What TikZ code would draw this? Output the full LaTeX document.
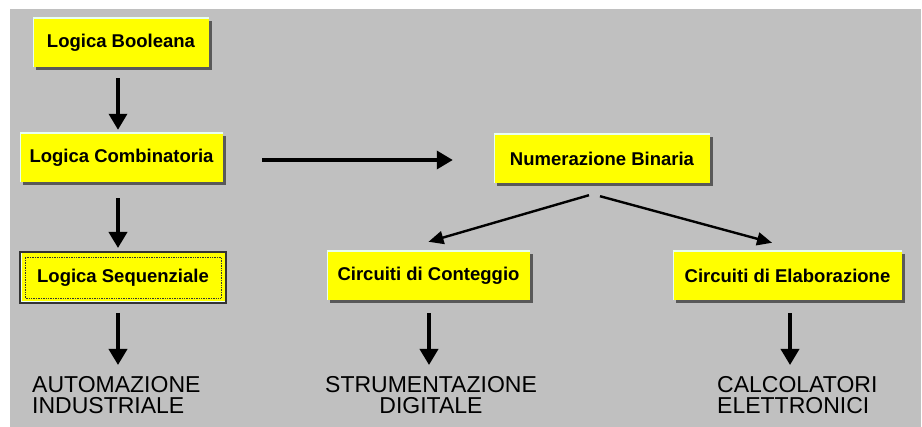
\documentclass[tikz,border=0pt]{standalone}
\usepackage{fontspec}
\setmainfont{Liberation Sans}
\usetikzlibrary{arrows.meta,shadows}
\definecolor{bg}{HTML}{C0C0C0}
\definecolor{ylw}{HTML}{FFFF00}
\definecolor{hilite}{HTML}{E8FFF0}
\begin{document}
\begin{tikzpicture}[x=1pt,y=-1pt,
  box/.style={fill=ylw, draw=none, inner sep=0pt, minimum height=49pt,
    font=\bfseries\fontsize{18.5}{20}\selectfont,
    drop shadow={shadow xshift=3pt, shadow yshift=-3pt, fill=black!65, opacity=1},
    path picture={\draw[hilite, line width=2.4pt]
      (path picture bounding box.south west) |- (path picture bounding box.north east);}},
  selbox/.style={fill=ylw, draw=black!80, line width=2pt, inner sep=0pt,
    font=\bfseries\fontsize{18.5}{20}\selectfont,
    path picture={
      \draw[hilite, line width=3pt] (path picture bounding box.south west) rectangle (path picture bounding box.north east);
      \draw[densely dotted, line width=0.7pt]
        ([shift={(5pt,5pt)}]path picture bounding box.south west) rectangle
        ([shift={(-5pt,-5pt)}]path picture bounding box.north east);}},
  outtext/.style={inner sep=0pt, text=black, font=\fontsize{23}{21}\selectfont},
  arr/.style={line width=3.5pt, -{Triangle[width=18pt,length=16pt]}},
  darr/.style={line width=2.4pt, -{Triangle[width=13pt,length=15pt]}}
]
\useasboundingbox (0,0) rectangle (922,427);
\fill[white] (0,0) rectangle (922,427);
\fill[bg] (10,9) rectangle (921,427);

\node[box, minimum width=176pt] (bool) at (121,42.5) {Logica Booleana};
\node[box, minimum width=203pt] (comb) at (121.5,157.5) {Logica Combinatoria};
\node[selbox, minimum width=206pt, minimum height=51pt] (seq) at (123,277.5) {Logica Sequenziale};
\node[box, minimum width=216pt] (num) at (602,158.5) {Numerazione Binaria};
\node[box, minimum width=203pt] (cont) at (428.5,275.5) {Circuiti di Conteggio};
\node[box, minimum width=229pt] (elab) at (787.5,275.5) {Circuiti di Elaborazione};

\node[outtext, align=left, anchor=north west] (aut) at (32,376) {AUTOMAZIONE\\INDUSTRIALE};
\node[outtext, align=center, anchor=north] (str) at (431,376) {STRUMENTAZIONE\\DIGITALE};
\node[outtext, align=left, anchor=north west] (cal) at (717,376) {CALCOLATORI\\ELETTRONICI};

\draw[arr, shorten <=11pt, shorten >=3pt] ([xshift=-3pt]bool.south) -- ([xshift=-3pt]bool.south |- comb.north);
\draw[arr, shorten <=16pt, shorten >=3pt] ([xshift=-3.5pt]comb.south) -- ([xshift=-3.5pt]comb.south |- seq.north);
\draw[arr, shorten <=9pt, shorten >=11pt] ([xshift=-5pt]seq.south) -- ([xshift=-5pt]seq.south |- aut.north);
\draw[arr, shorten <=39pt, shorten >=41pt] ([yshift=-2.5pt]comb.east) -- ([yshift=-2.5pt]comb.east -| num.west);
\draw[darr] ([xshift=-13pt,yshift=-12pt]num.south) -- ([yshift=9pt]cont.north);
\draw[darr] ([xshift=-2pt,yshift=-13pt]num.south) -- ([xshift=-15.5pt,yshift=8pt]elab.north);
\draw[arr, shorten <=13pt, shorten >=11pt] ([xshift=0.5pt]cont.south) -- ([xshift=0.5pt]cont.south |- str.north);
\draw[arr, shorten <=13pt, shorten >=11pt] ([xshift=2.5pt]elab.south) -- ([xshift=2.5pt]elab.south |- cal.north);
\end{tikzpicture}
\end{document}
